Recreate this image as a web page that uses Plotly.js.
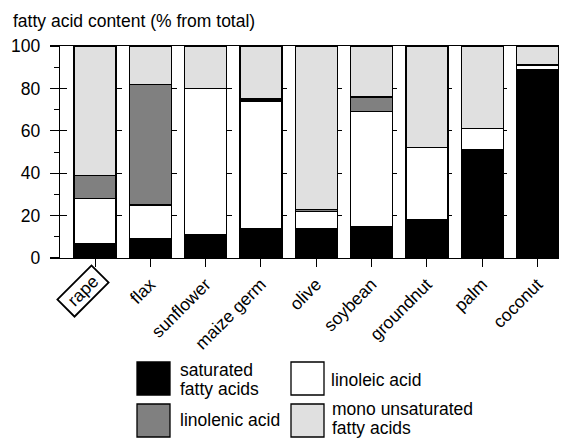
<!DOCTYPE html>
<html><head><meta charset="utf-8">
<script src="https://cdn.plot.ly/plotly-3.0.1.min.js"></script>
<style>html,body{margin:0;padding:0;background:#fff}#chart{width:568px;height:439px}</style>
</head><body><div id="chart"></div>
<script>
// ---- data ----
const categories = ['rape', 'flax', 'sunflower', 'maize germ', 'olive', 'soybean', 'groundnut', 'palm', 'coconut'];
const saturated  = [7, 9, 11, 14, 14, 15, 18, 51, 89];
const linoleic   = [21, 16, 69, 60, 8, 54, 34, 10, 2];
const linolenic  = [11, 57, 0, 1, 1, 7, 0, 0, 0];
const mono       = [61, 18, 20, 25, 77, 24, 48, 39, 9];
const seriesNames = ['saturated fatty acids', 'linoleic acid', 'linolenic acid', 'mono unsaturated fatty acids'];
const legendLines = [['saturated', 'fatty acids'], ['linoleic acid'], ['linolenic acid'], ['mono unsaturated', 'fatty acids']];
const yTickVals = [0, 20, 40, 60, 80, 100];
const highlighted = 'rape';
const yTitle = 'fatty acid content (% from total)';

// ---- style ----
const colors = ['#000000', '#ffffff', '#808080', '#e0e0e0'];
const FONT = "'Liberation Sans', Arial, Helvetica, sans-serif";
const FS = 17.5;
const W = 568, H = 439;
const M = {l: 60, r: 10, t: 46, b: 181};
const PW = W - M.l - M.r, PH = H - M.t - M.b;
const px = x => (x - M.l) / PW;
const py = y => (H - M.b - y) / PH;

const pos = categories.map((c, i) => i);
const series = [saturated, linoleic, linolenic, mono];
const traces = series.map((vals, k) => ({
  type: 'bar', x: pos, y: vals, name: seriesNames[k], width: 0.76,
  marker: {color: colors[k], line: {color: '#000', width: 1.3}},
  hoverinfo: 'skip', showlegend: false
}));

const shapes = [];
const annotations = [];
// legend (drawn manually: big swatches)
const slots = [[137, 362], [291, 362], [137, 404], [291, 404]];
const textX = [179, 330, 179, 331];
const textCY = [379.5, 379.5, 420.5, 418.5];
series.forEach((s, k) => {
  const [sx, sy] = slots[k];
  shapes.push({type: 'rect', xref: 'paper', yref: 'paper', x0: px(sx), x1: px(sx + 33), y0: py(sy), y1: py(sy + 33),
    fillcolor: colors[k], line: {color: '#000', width: 1.3}});
  const lines = legendLines[k];
  const cy = textCY[k];
  lines.forEach((t, j) => {
    const yy = lines.length === 1 ? cy : cy - 9.25 + j * 18.5;
    annotations.push({xref: 'paper', yref: 'paper', x: px(textX[k]), y: py(yy), xanchor: 'left', yanchor: 'middle',
      text: t, showarrow: false, borderpad: 0, font: {family: FONT, size: FS, color: '#000'}});
  });
});
// highlighted category label with a box
const hi = categories.indexOf(highlighted);
annotations.push({xref: 'x', yref: 'paper', x: hi, y: 0, xshift: -12, yshift: -33, xanchor: 'center', yanchor: 'middle',
  text: '\u00a0' + highlighted + '\u00a0', textangle: -45, showarrow: false, bordercolor: '#000', borderwidth: 1.8, borderpad: 1,
  bgcolor: '#fff', font: {family: FONT, size: FS, color: '#000'}});

const layout = {
  width: W, height: H, margin: M, paper_bgcolor: '#fff', plot_bgcolor: 'rgba(0,0,0,0)',
  barmode: 'stack', showlegend: false,
  font: {family: FONT, size: FS, color: '#000'},
  title: {text: yTitle, x: 13 / W, xanchor: 'left', xref: 'container', yref: 'container', y: 1 - 21 / H, yanchor: 'middle',
    font: {family: FONT, size: FS, color: '#000'}},
  xaxis: {range: [-0.633, 8.371], tickvals: pos, ticktext: categories.map(c => c === highlighted ? '' : c),
    tickangle: -45, ticks: 'outside', ticklen: 8, tickwidth: 1, tickcolor: '#000',
    showline: true, linecolor: '#000', linewidth: 1.3, mirror: true, showgrid: false, zeroline: false,
    automargin: false, fixedrange: true, tickfont: {family: FONT, size: FS, color: '#000'}},
  yaxis: {range: [0, 100], tickvals: yTickVals, ticks: 'outside', ticklen: 9, tickwidth: 1.3, tickcolor: '#000',
    minor: {dtick: 10, ticks: 'outside', ticklen: 5, tickwidth: 1, tickcolor: '#000', showgrid: false},
    showline: true, linecolor: '#000', linewidth: 1.3, mirror: true, zeroline: false,
    showgrid: true, gridcolor: '#000', gridwidth: 1, griddash: '7px,48px',
    ticklabelstandoff: 6, automargin: false, fixedrange: true, tickfont: {family: FONT, size: FS, color: '#000'}},
  shapes: shapes, annotations: annotations
};
Plotly.newPlot('chart', traces, layout, {displayModeBar: false, staticPlot: true});
</script>
</body></html>
